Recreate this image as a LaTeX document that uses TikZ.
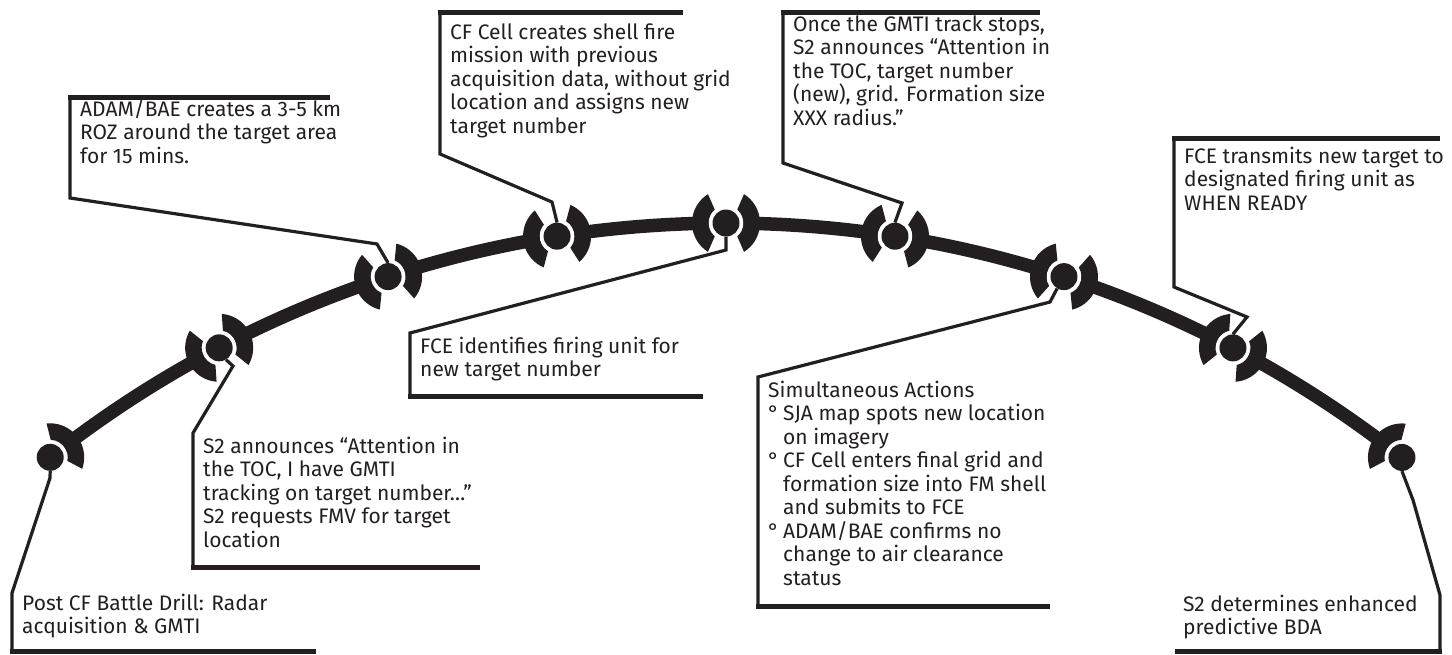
\documentclass[tikz,border=0pt]{standalone}
\usepackage{fontspec}
\setmainfont{Fira Sans}
\usetikzlibrary{calc}
\definecolor{ink}{HTML}{231F20}
\newcommand\fstrut{\rule{0pt}{17pt}}
\begin{document}
\begin{tikzpicture}[x=1pt,y=1pt,
  lbl/.style={anchor=north west, inner sep=0pt, align=left, text=ink,
    font=\fontsize{21}{23.5}\selectfont},
  lead/.style={draw=ink, line width=3.2pt, line join=miter},
  bar/.style={draw=ink, line width=5pt},
  dot/.style={circle, fill=ink, inner sep=0pt, minimum size=27pt}]
\useasboundingbox (0,0) rectangle (1452,-654);
\coordinate (C) at (726,-1315);
% main arc
\draw[ink, line width=13.5pt] (C) ++(128.25:1092pt) arc[start angle=128.25, end angle=51.75, radius=1092pt];
% nodes
\foreach \i/\k in {1/-4,2/-3,3/-2,4/-1,5/0,6/1,7/2,8/3,9/4}{
  \pgfmathsetmacro\ph{acos(169*\k/1092)}
  \pgfmathsetmacro\t{\ph-90}
  \path (C) ++(\ph:1092pt) coordinate (p\i);
  \fill[white] (p\i) circle (17.5pt);
  \ifnum\i<9
    \fill[ink] (p\i) ++(\t-58:34pt) arc[start angle=\t-58, end angle=\t+58, radius=34pt]
      -- ($(p\i)+(\t+50:17.5pt)$) arc[start angle=\t+50, end angle=\t-50, radius=17.5pt] -- cycle;
  \fi
  \ifnum\i>1
    \fill[ink] (p\i) ++(\t+122:34pt) arc[start angle=\t+122, end angle=\t+238, radius=34pt]
      -- ($(p\i)+(\t+230:17.5pt)$) arc[start angle=\t+230, end angle=\t+130, radius=17.5pt] -- cycle;
  \fi
  \node[dot] (n\i) at (p\i) {};
}
% box 1
\node[lbl] (t1) at (22,-593) {\fstrut Post CF Battle Drill: Radar\\acquisition \& GMTI};
\draw[lead] (n1.south) -- (50,-478) -- (12,-593) -- (12,-651);
\draw[bar] (10.4,-651) -- (316,-651);
% box 2
\node[lbl] (t2) at (203,-436) {\fstrut S2 announces “Attention in\\the TOC, I have GMTI\\tracking on target number…”\\S2 requests FMV for target\\location};
\draw[lead] (n2.-60) -- (233,-366) -- (193,-433) -- (193,-567);
\draw[bar] (191.4,-567) -- (480,-567);
% box 3
\node[lbl] (t3) at (80,-99) {\fstrut ADAM/BAE creates a 3-5 km\\ROZ around the target area\\for 15 mins.};
\draw[lead] (n3.north) -- (377,-244) -- (70,-198) -- (70,-97);
\draw[bar] (68.4,-97) -- (330,-97);
% box 4
\node[lbl] (t4) at (450,-22) {\fstrut CF Cell creates shell fire\\mission with previous\\acquisition data, without grid\\location and assigns new\\target number};
\draw[lead] (n4.north) -- (552,-202) -- (440,-154) -- (440,-12);
\draw[bar] (438.4,-12) -- (683,-12);
% box 5
\node[lbl] (t5) at (420,-336) {\fstrut FCE identifies firing unit for\\new target number};
\draw[lead] (n5.south) -- (726,-250) -- (410,-333) -- (410,-396);
\draw[bar] (408.4,-396) -- (703,-396);
% box 6
\node[lbl] (t6) at (793,-14) {\fstrut Once the GMTI track stops,\\S2 announces “Attention in\\the TOC, target number\\(new), grid. Formation size\\XXX radius.”};
\draw[lead] (n6.north) -- (902,-203) -- (783,-163) -- (783,-12);
\draw[bar] (781.4,-12) -- (1040,-12);
% box 7
\node[lbl] (t7) at (768,-380) {\fstrut Simultaneous Actions\\
  \makebox[15pt][l]{°}SJA map spots new location\\\hspace*{15pt}on imagery\\
  \makebox[15pt][l]{°}CF Cell enters final grid and\\\hspace*{15pt}formation size into FM shell\\\hspace*{15pt}and submits to FCE\\
  \makebox[15pt][l]{°}ADAM/BAE confirms no\\\hspace*{15pt}change to air clearance\\\hspace*{15pt}status};
\draw[lead] (n7.-120) -- (1050,-302) -- (758,-377) -- (758,-606);
\draw[bar] (756.4,-606) -- (1050,-606);
% box 8
\node[lbl] (t8) at (1184,-146) {\fstrut FCE transmits new target to\\designated firing unit as\\WHEN READY};
\draw[lead] (n8.north) -- (1247,-317) -- (1174,-287) -- (1174,-138);
\draw[bar] (1172.4,-138) -- (1440,-138);
% box 9
\node[lbl] (t9) at (1183,-594) {\fstrut S2 determines enhanced\\predictive BDA};
\draw[lead] (n9.south) -- (1413,-500) -- (1440,-595) -- (1440,-651);
\draw[bar] (1441.6,-651) -- (1175,-651);
\end{tikzpicture}
\end{document}
